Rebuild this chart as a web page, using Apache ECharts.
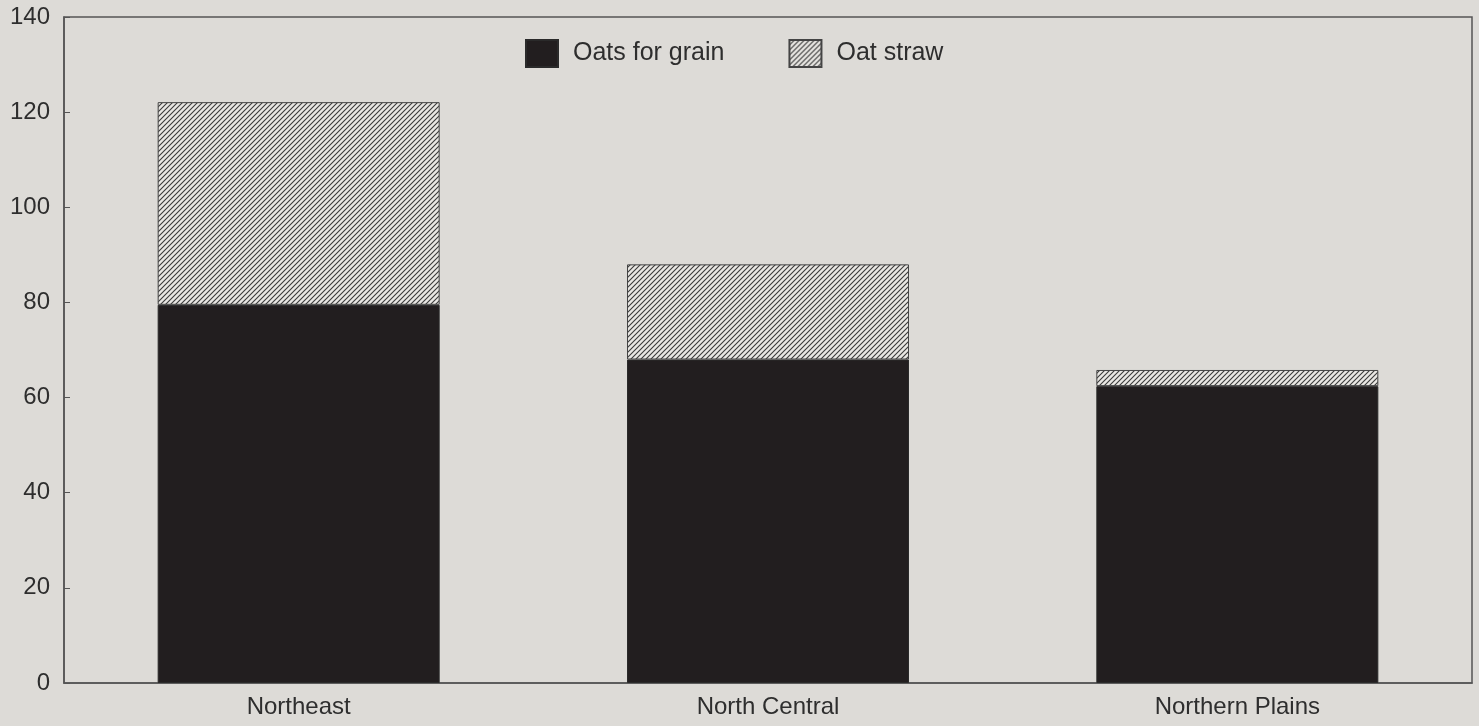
<!DOCTYPE html>
<html><head><meta charset="utf-8">
<script src="https://cdn.jsdelivr.net/npm/echarts@6/dist/echarts.min.js"></script>
<style>html,body{margin:0;padding:0;background:#dddbd7;}#c{width:1479px;height:726px;}</style>
</head><body><div id="c"></div>
<script>
const categories = ['Northeast', 'North Central', 'Northern Plains'];
const oatsForGrain = [79.5, 68, 62.4];
const oatStraw = [42.6, 20, 3.4];
const yTicks = [0, 20, 40, 60, 80, 100, 120, 140];

function hatch() {
  const s = 5;
  const c = document.createElement('canvas');
  c.width = s; c.height = s;
  const g = c.getContext('2d');
  g.fillStyle = '#e9e7e3';
  g.fillRect(0, 0, s, s);
  g.strokeStyle = '#3a3a3a';
  g.lineWidth = 1.1;
  g.beginPath();
  g.moveTo(-1, s + 1); g.lineTo(s + 1, -1);
  g.moveTo(-1, 1); g.lineTo(1, -1);
  g.moveTo(s - 1, s + 1); g.lineTo(s + 1, s - 1);
  g.stroke();
  return c;
}
const pat = { image: hatch(), repeat: 'repeat' };
const font = 'Liberation Sans';

const chart = echarts.init(document.getElementById('c'));
chart.setOption({
  backgroundColor: '#dddbd7',
  animation: false,
  legend: {
    top: 34, left: 520, icon: 'rect',
    itemWidth: 32, itemHeight: 27, itemGap: 64,
    textStyle: { fontFamily: font, fontSize: 25, color: '#2e2e2e', padding: [8, 0, 0, 10] },
    data: ['Oats for grain', 'Oat straw']
  },
  grid: { left: 64, right: 7, top: 17, bottom: 43, show: true, borderColor: '#555', borderWidth: 1.5, backgroundColor: 'transparent' },
  xAxis: {
    type: 'category', data: categories,
    axisLine: { show: true, lineStyle: { color: '#555', width: 1.5 } },
    axisTick: { show: false },
    axisLabel: { fontFamily: font, fontSize: 24, color: '#2e2e2e', margin: 12 }
  },
  yAxis: {
    type: 'value', min: 0, max: 140, interval: 20,
    axisLine: { show: true, lineStyle: { color: '#555', width: 1.5 } },
    axisTick: { show: true, inside: true, length: 6, lineStyle: { color: '#555' } },
    splitLine: { show: false },
    axisLabel: { fontFamily: font, fontSize: 24, color: '#2e2e2e', margin: 14,
      formatter: v => yTicks.includes(v) ? String(v) : '' }
  },
  series: [
    { name: 'Oats for grain', type: 'bar', stack: 't', data: oatsForGrain, barWidth: 282,
      itemStyle: { color: '#221e1f', borderColor: '#2a2a2a', borderWidth: 1 } },
    { name: 'Oat straw', type: 'bar', stack: 't', data: oatStraw, barWidth: 282,
      itemStyle: { color: pat, borderColor: '#444', borderWidth: 1 } }
  ]
});
</script></body></html>
